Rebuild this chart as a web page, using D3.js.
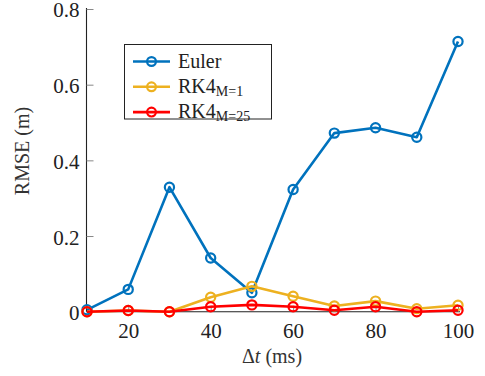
<!DOCTYPE html>
<html>
<head>
<meta charset="utf-8">
<script src="https://cdn.jsdelivr.net/npm/d3@7"></script>
</head>
<body style="margin:0">
<script>
// data
var dtValues = [10, 20, 30, 40, 50, 60, 70, 80, 90, 100];
var eulerRmse = [0.005, 0.059, 0.329, 0.142, 0.05, 0.323, 0.472, 0.486, 0.461, 0.714];
var rk4M1Rmse = [0.0, 0.003, 0.0, 0.038, 0.067, 0.041, 0.015, 0.028, 0.008, 0.017];
var rk4M25Rmse = [0.0, 0.003, 0.0, 0.013, 0.018, 0.013, 0.004, 0.013, 0.0, 0.004];
var xTicks = [20, 40, 60, 80, 100];
var yTicks = [0, 0.2, 0.4, 0.6, 0.8];
var seriesNames = ["Euler", "RK4", "RK4"];
var seriesSubs = ["", "M=1", "M=25"];
var seriesColors = ["#0072BD", "#EDB120", "#FF0000"];

var FONT = "Liberation Serif";
var width = 485, height = 376;

var svg = d3.select("body").append("svg")
    .attr("width", width)
    .attr("height", height);

var x = d3.scaleLinear().domain([10, 100]).range([87, 458]);
var y = d3.scaleLinear().domain([0, 0.8]).range([311.7, 9]);

// axes
var xAxis = svg.append("g")
    .attr("transform", "translate(0," + y(0) + ")")
    .call(d3.axisBottom(x).tickValues(xTicks).tickSizeInner(-6).tickSizeOuter(0).tickPadding(11)
      .tickFormat(d3.format("d")));
xAxis.select(".domain").attr("d", "M" + (x(10) - 0.5) + ",0H460").attr("stroke", "#222").attr("stroke-width", 1.1);
xAxis.selectAll(".tick line").attr("stroke", "#888");
xAxis.selectAll(".tick text")
    .style("font-family", FONT).style("font-size", "21px").attr("fill", "#222");

var yAxis = svg.append("g")
    .attr("transform", "translate(" + (x(10) - 0.5) + ",0)")
    .call(d3.axisLeft(y).tickValues(yTicks).tickSizeInner(-7).tickSizeOuter(0).tickPadding(7)
      .tickFormat(function(d){ return d === 0 ? "0" : d3.format(".1f")(d); }));
yAxis.select(".domain").attr("d", "M0," + y(0) + "V8").attr("stroke", "#222").attr("stroke-width", 1.1);
yAxis.selectAll(".tick line").attr("stroke", "#888");
yAxis.selectAll(".tick text")
    .style("font-family", FONT).style("font-size", "21px").attr("fill", "#222").attr("dy", "0.38em");

// axis labels
svg.append("text")
    .attr("transform", "translate(29,151) rotate(-90)")
    .attr("text-anchor", "middle")
    .style("font-family", FONT)
    .style("font-size", "20px")
    .attr("fill", "#333")
    .text("RMSE (m)");

var xl = svg.append("text")
    .attr("x", 272).attr("y", 363)
    .attr("text-anchor", "middle")
    .style("font-family", FONT)
    .style("font-size", "20px")
    .attr("fill", "#333");
xl.append("tspan").text("\u0394");
xl.append("tspan").style("font-style", "italic").text("t");
xl.append("tspan").text(" (ms)");

// series
var allSeries = [eulerRmse, rk4M1Rmse, rk4M25Rmse];
var line = d3.line()
    .x(function(d, i){ return x(dtValues[i]); })
    .y(function(d){ return y(d); });

allSeries.forEach(function(vals, k){
  var g = svg.append("g");
  g.append("path")
      .datum(vals)
      .attr("d", line)
      .attr("fill", "none")
      .attr("stroke", seriesColors[k])
      .attr("stroke-width", 2.6)
      .attr("stroke-linejoin", "round");
  g.selectAll("circle")
      .data(vals)
      .enter().append("circle")
      .attr("cx", function(d, i){ return x(dtValues[i]); })
      .attr("cy", function(d){ return y(d); })
      .attr("r", 4.6)
      .attr("fill", "none")
      .attr("stroke", seriesColors[k])
      .attr("stroke-width", 2.2);
});

// legend
var legend = svg.append("g");
legend.append("rect")
    .attr("x", 124.5).attr("y", 44.5)
    .attr("width", 147).attr("height", 74.5)
    .attr("fill", "#fff")
    .attr("stroke", "#222")
    .attr("stroke-width", 1);

seriesNames.forEach(function(name, k){
  var ly = 61.5 + k * 25.3;
  legend.append("line")
      .attr("x1", 133).attr("x2", 170)
      .attr("y1", ly).attr("y2", ly)
      .attr("stroke", seriesColors[k])
      .attr("stroke-width", 2.6);
  legend.append("circle")
      .attr("cx", 151.5).attr("cy", ly)
      .attr("r", 4.4)
      .attr("fill", "none")
      .attr("stroke", seriesColors[k])
      .attr("stroke-width", 2.2);
  var t = legend.append("text")
      .attr("x", 178).attr("y", ly + 6)
      .style("font-family", FONT)
      .style("font-size", "20px")
      .attr("fill", "#222");
  t.append("tspan").text(name);
  if (seriesSubs[k]) {
    t.append("tspan")
        .attr("dy", 3)
        .style("font-size", "14px")
        .text(seriesSubs[k]);
  }
});
</script>
</body>
</html>
